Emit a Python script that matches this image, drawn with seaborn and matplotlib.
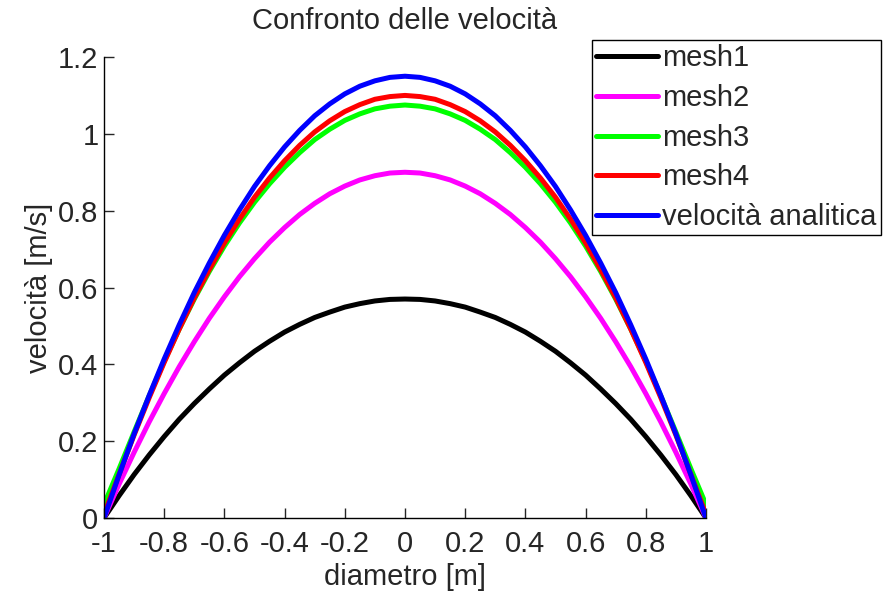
import matplotlib
matplotlib.use('Agg')
import matplotlib.pyplot as plt
import numpy as np
import pandas as pd
import seaborn as sns

# values, one every 0.05 m
diametro = [-1.0, -0.95, -0.9, -0.85, -0.8, -0.75, -0.7, -0.65, -0.6, -0.55, -0.5,
            -0.45, -0.4, -0.35, -0.3, -0.25, -0.2, -0.15, -0.1, -0.05, 0.0,
            0.05, 0.1, 0.15, 0.2, 0.25, 0.3, 0.35, 0.4, 0.45, 0.5,
            0.55, 0.6, 0.65, 0.7, 0.75, 0.8, 0.85, 0.9, 0.95, 1.0]
mesh1 = [0.0, 0.058, 0.113, 0.164, 0.212, 0.257, 0.298, 0.336, 0.372, 0.404, 0.434,
         0.460, 0.484, 0.504, 0.522, 0.536, 0.549, 0.558, 0.565, 0.569, 0.570,
         0.569, 0.565, 0.558, 0.549, 0.536, 0.522, 0.504, 0.484, 0.460, 0.434,
         0.404, 0.372, 0.336, 0.298, 0.257, 0.212, 0.164, 0.113, 0.058, 0.0]
mesh2 = [0.0, 0.088, 0.171, 0.250, 0.324, 0.394, 0.459, 0.520, 0.576, 0.628, 0.675,
         0.718, 0.756, 0.790, 0.819, 0.844, 0.864, 0.880, 0.891, 0.898, 0.900,
         0.898, 0.891, 0.880, 0.864, 0.844, 0.819, 0.790, 0.756, 0.718, 0.675,
         0.628, 0.576, 0.520, 0.459, 0.394, 0.324, 0.250, 0.171, 0.088, 0.0]
mesh3 = [0.035, 0.128, 0.224, 0.318, 0.408, 0.492, 0.570, 0.642, 0.708, 0.768, 0.822,
         0.870, 0.913, 0.951, 0.985, 1.012, 1.035, 1.052, 1.065, 1.072, 1.075,
         1.072, 1.065, 1.052, 1.035, 1.012, 0.985, 0.951, 0.913, 0.870, 0.822,
         0.768, 0.708, 0.642, 0.570, 0.492, 0.408, 0.318, 0.224, 0.128, 0.035]
mesh4 = [0.01, 0.113, 0.216, 0.313, 0.405, 0.492, 0.573, 0.647, 0.716, 0.778, 0.835,
         0.885, 0.930, 0.970, 1.005, 1.034, 1.058, 1.076, 1.090, 1.097, 1.100,
         1.097, 1.090, 1.076, 1.058, 1.034, 1.005, 0.970, 0.930, 0.885, 0.835,
         0.778, 0.716, 0.647, 0.573, 0.492, 0.405, 0.313, 0.216, 0.113, 0.01]
analitica = [0.0, 0.112, 0.219, 0.319, 0.414, 0.503, 0.587, 0.664, 0.736, 0.802, 0.863,
             0.917, 0.966, 1.009, 1.047, 1.078, 1.104, 1.124, 1.138, 1.147, 1.150,
             1.147, 1.138, 1.124, 1.104, 1.078, 1.047, 1.009, 0.966, 0.917, 0.863,
             0.802, 0.736, 0.664, 0.587, 0.503, 0.414, 0.319, 0.219, 0.112, 0.0]

series = {
    'mesh1': (mesh1, '#000000'),
    'mesh2': (mesh2, '#ff00ff'),
    'mesh3': (mesh3, '#00ff00'),
    'mesh4': (mesh4, '#ff0000'),
    'velocità analitica': (analitica, '#0000ff'),
}
xticklabels = ['-1', '-0.8', '-0.6', '-0.4', '-0.2', '0', '0.2', '0.4', '0.6', '0.8', '1']
yticklabels = ['0', '0.2', '0.4', '0.6', '0.8', '1', '1.2']

sns.set_style('ticks')
plt.rcParams['font.family'] = ['Liberation Sans', 'DejaVu Sans']

fig = plt.figure(figsize=(8.83, 5.92), dpi=100)
ax = fig.add_axes([0.1178, 0.125, 0.6817, 0.7787])

for name, (vals, col) in series.items():
    df = pd.DataFrame({'x': diametro, 'y': vals})
    sns.lineplot(data=df, x='x', y='y', ax=ax, color=col, linewidth=3.6, label=name)

ax.set_xlim(-1, 1)
ax.set_ylim(0, 1.2)
ax.set_xticks(np.linspace(-1, 1, 11))
ax.set_xticklabels(xticklabels)
ax.set_yticks(np.linspace(0, 1.2, 7))
ax.set_yticklabels(yticklabels)
ax.tick_params(direction='in', length=7, width=1, labelsize=21)
ax.tick_params(axis='x', pad=9)
ax.tick_params(axis='y', pad=4)
for s in ['top', 'right']:
    ax.spines[s].set_visible(False)
for s in ['left', 'bottom']:
    ax.spines[s].set_linewidth(1)
    ax.spines[s].set_color('black')

ax.set_xlabel('diametro [m]', fontsize=21, labelpad=3)
ax.set_ylabel('velocità [m/s]', fontsize=21, labelpad=4)
ax.set_title('Confronto delle velocità', fontsize=21, pad=20)

leg = ax.legend(loc='upper left', bbox_to_anchor=(0.6704, 0.9324),
                bbox_transform=fig.transFigure, borderaxespad=0, fancybox=False,
                frameon=True, edgecolor='black', fontsize=21, handlelength=2.1,
                handletextpad=0.15, borderpad=0.15, labelspacing=0.4)
leg.get_frame().set_linewidth(1)
leg.get_frame().set_alpha(1)

fig.savefig('out.png', dpi=100)
